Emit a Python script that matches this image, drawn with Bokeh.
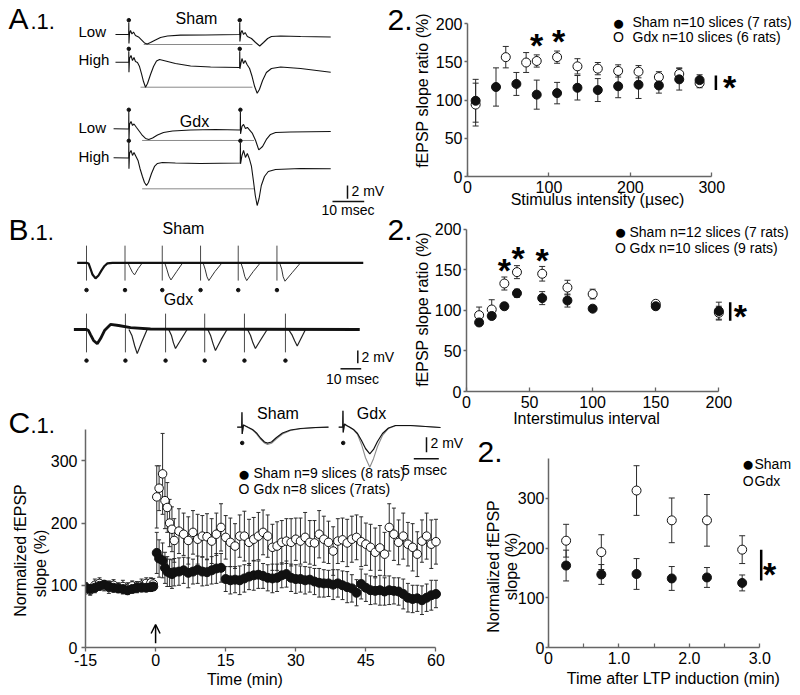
import math
from bokeh.plotting import figure
from bokeh.models import (Range1d, FixedTicker, Label, Whisker, TeeHead,
                          ColumnDataSource, Arrow, OpenHead)
from bokeh.layouts import row, column
from bokeh.embed import file_html
from bokeh.resources import INLINE

FONT = "Liberation Sans"
INK = "#111111"
AXC = "#666666"
ERR = "#2b2b2b"

# ============================ DATA ============================
# ---- A.1 example traces (ms from 1st stimulus, mV from baseline) ----
a1_sham_low_t = [-4.2, -0.25, -0.03, 0.0, 0.05, 0.22, 0.54, 1.0, 1.48, 2.1, 3.06, 4.0, 4.95, 5.8, 6.85,
                 8.4, 10.0, 12.2, 16.3, 24.2, 34.8, 34.97, 35.0, 35.05, 35.4, 35.7, 36.2, 36.7, 37.4,
                 38.7, 40.0, 41.3, 42.5, 43.8, 45.0, 47.9, 54.2, 63.7]
a1_sham_low_v = [0, 0, 0, 1.8, -1.35, 0.15, 0.6, 0.07, 0.37, -0.15, -0.37, -0.82, -1.27, -1.42, -1.2,
                 -0.82, -0.45, -0.22, -0.1, -0.07, 0, 0, 1.8, -1.05, 0.3, 0.6, 0, 0.3, -0.3,
                 -0.6, -1.2, -1.72, -1.2, -0.6, -0.3, -0.22, -0.3, -0.37]
a1_sham_high_t = [-4.2, -0.25, -0.03, 0.0, 0.05, 0.22, 0.7, 1.17, 1.64, 2.1, 2.74, 3.38, 4.0, 4.64, 5.27,
                  5.9, 6.85, 7.8, 8.74, 9.7, 11.6, 14.7, 19.5, 25.8, 34.8, 34.97, 35.0, 35.05, 35.4,
                  35.7, 36.2, 36.7, 37.3, 38.1, 38.9, 39.7, 40.5, 41.2, 42.2, 43.4, 45.0, 47.9, 54.2, 63.7]
a1_sham_high_v = [0, 0, 0, 1.65, -1.5, 0.55, 1.0, 0.25, 0.7, 0.1, -0.05, -0.65, -1.7, -2.9, -3.75,
                  -3.2, -1.85, -0.65, 0.18, 0.4, 0.18, -0.2, -0.57, -0.72, -0.8, -0.8, 1.65, -1.0, -0.05,
                  0.55, -0.2, 0.25, -0.35, -0.95, -2.15, -3.65, -4.65, -4.1, -2.75, -1.55, -0.95, -0.72, -0.95, -1.5]
a1_gdx_low_t = [-4.8, -0.25, -0.03, 0.0, 0.05, 0.22, 0.7, 1.17, 1.64, 2.43, 3.38, 4.3, 5.27, 6.3, 7.5,
                9.05, 10.95, 13.8, 19.5, 27.3, 35.0, 35.17, 35.2, 35.25, 35.7, 36.2, 36.8, 37.4, 38.2,
                39.0, 40.0, 41.0, 42.2, 43.4, 44.7, 46.3, 51.0, 63.7]
a1_gdx_low_v = [0, -0.03, -0.03, 2.5, -1.75, 0.65, 1.1, 0.5, 0.72, 0.2, -0.4, -1.0, -1.45, -1.6, -1.38,
                -0.93, -0.55, -0.33, -0.18, -0.1, -0.18, -0.18, 2.5, -0.75, 0.35, 0.65, 0.05, 0.2, -0.25,
                -0.7, -1.75, -3.15, -2.65, -1.6, -0.85, -0.55, -0.48, -0.4]
a1_gdx_high_t = [-4.8, -0.25, -0.03, 0.0, 0.05, 0.22, 0.7, 1.17, 1.64, 2.27, 2.9, 3.53, 4.3, 4.95, 5.58,
                 6.2, 7.16, 8.1, 9.05, 10.6, 14.7, 22.6, 35.0, 35.17, 35.2, 35.25, 35.7, 36.2, 36.8,
                 37.4, 38.0, 38.7, 39.3, 39.9, 40.5, 41.1, 41.8, 42.8, 44.0, 46.3, 54.2, 63.7]
a1_gdx_high_v = [0, -0.03, -0.03, 2.2, -1.65, 0.65, 1.1, 0.35, 0.8, 0.2, -0.4, -1.6, -2.8, -3.7, -4.15,
                 -3.7, -2.35, -1.3, -0.85, -0.7, -0.78, -0.85, -0.78, -0.78, 2.2, -0.9, 0.35, 1.1, 0.05,
                 0.65, -0.1, -1.3, -3.4, -5.65, -7.15, -6.1, -4.15, -2.8, -2.05, -1.75, -1.6, -1.65]
a1_ref_start = [4.7, 3.7, 4.2, 4.2]
a1_ref_end = [39.0, 39.0, 39.5, 39.5]
a1_ref_level = [-1.5, -3.75, -1.75, -4.65]
a1_stims = [[0, 35.0], [0, 35.0], [0, 35.2], [0, 35.2]]
a1_dot_level = [2.15, 2.0, 2.85, 2.55]

# ---- A.2 ----
a2_sham_x = [10, 35, 60, 85, 110, 135, 160, 185, 210, 235, 260, 285]
a2_sham_y = [99, 117, 121, 107, 109, 116, 113, 118, 120, 119, 127, 126]
a2_sham_err = [28, 25, 15, 19, 14, 16, 15, 15, 18, 10, 14, 7]
a2_gdx_x = [10, 47, 72, 85, 110, 135, 160, 185, 210, 235, 260, 285]
a2_gdx_y = [94, 156, 149, 151, 156, 144, 141, 138, 137, 130, 134, 122]
a2_gdx_err = [28, 14, 13, 8, 8, 10, 8, 8, 8, 7, 8, 6]
a2_star_x = [85, 112]
a2_star_y = [181, 186]
a2_sig = (305, 113, 132)
a2_sig_star = (322, 125)
a2_xticks = [0, 100, 200, 300]
a2_yticks = [0, 50, 100, 150, 200]

# ---- B.1 example traces ----
b1_sham_main_t = [-4.5, 0.0, 1.0, 1.9, 2.9, 4.35, 5.8, 7.25, 8.7, 10.1, 12.6, 133.7]
b1_sham_main_v = [0, 0, -0.1, -0.9, -1.85, -2.45, -2.0, -1.2, -0.5, -0.1, 0, 0]
b1_sham_stims = [0, 18.6, 36.6, 55.1, 73.3, 92.0]
b1_sham_resp_t = [[20.0, 21.0, 22.2, 23.2, 25.0, 27.0], [37.8, 38.8, 39.8, 40.8, 43.5, 46.5],
                  [56.3, 57.3, 58.2, 59.1, 62.0, 65.5], [74.6, 75.6, 76.5, 77.4, 80.5, 84.0],
                  [93.3, 94.3, 95.0, 95.9, 99.5, 103.4]]
b1_sham_resp_v = [[0, -0.7, -1.5, -1.9, -0.9, 0], [0, -1.0, -2.1, -2.7, -1.4, 0],
                  [0, -1.0, -2.2, -2.8, -1.4, 0], [0, -1.0, -2.2, -2.8, -1.4, 0],
                  [0, -1.0, -2.2, -2.9, -1.5, 0]]
b1_gdx_main_t = [-6.1, 0.0, 0.97, 1.93, 3.4, 5.2, 6.8, 8.7, 11.6, 15.5, 21.3, 30.9, 132.0]
b1_gdx_main_v = [0, 0, -0.16, -0.79, -1.73, -2.25, -1.42, -0.16, 0.79, 0.63, 0.31, 0.08, 0]
b1_gdx_stims = [0, 18.8, 38.2, 57.1, 76.3, 96.1]
b1_gdx_resp_t = [[20.5, 22.0, 23.3, 24.5, 26.8, 29.3], [39.7, 41.0, 42.0, 43.0, 45.8, 48.6],
                 [58.6, 60.0, 61.2, 62.3, 65.0, 67.9], [77.8, 79.2, 80.4, 81.6, 84.4, 87.3],
                 [97.6, 99.2, 100.6, 101.8, 103.8, 105.8]]
b1_gdx_resp_v = [[0, -1.0, -2.6, -3.8, -1.9, 0], [0, -0.9, -2.1, -3.0, -1.5, 0],
                 [0, -1.0, -2.3, -3.3, -1.6, 0], [0, -0.9, -2.1, -3.0, -1.5, 0],
                 [0, -0.8, -1.8, -2.6, -1.3, 0]]
b1_sham_art = (2.7, -2.8)
b1_gdx_art = (2.5, -3.6)
b1_sham_dot = -4.3
b1_gdx_dot = -4.9

# ---- B.2 ----
b2_x = [10, 20, 30, 40, 60, 80, 100, 150, 200]
b2_sham_y = [85, 93, 105, 121, 115, 112, 102, 105, 99]
b2_sham_err = [3, 3, 4, 5, 8, 8, 3, 4, 11]
b2_gdx_y = [94, 101, 133, 147, 145, 128, 120, 108, 97]
b2_gdx_err = [10, 12, 8, 8, 9, 9, 6, 4, 8]
b2_star_x = [30, 41, 60]
b2_star_y = [158, 172, 170]
b2_sig = (209, 87, 110)
b2_sig_star = (217, 101)
b2_xticks = [0, 50, 100, 150, 200]
b2_yticks = [0, 50, 100, 150, 200]

# ---- C.1 time course (min, % of baseline) ----
c1_t_base = [-15, -14, -13, -12, -11, -10, -9, -8, -7, -6, -5, -4, -3, -2, -1, -0.5]
c1_t_early = [0.25, 0.75, 1.5, 2, 2.5, 3, 3.5, 4]
c1_t_late = [5, 6, 7, 8, 9, 10, 11, 12,
             13, 14, 15, 16, 17, 18, 19, 20,
             21, 22, 23, 24, 25, 26, 27, 28,
             29, 30, 31, 32, 33, 34, 35, 36,
             37, 38, 39, 40, 41, 42, 43, 44,
             45, 46, 47, 48, 49, 50, 51, 52,
             53, 54, 55, 56, 57, 58, 59, 60]
c1_sham_base = [97, 94, 96, 99, 101, 98, 96, 95, 94, 92, 94, 96, 97, 96, 97, 98]
c1_sham_early = [152, 143, 140, 128, 122, 120, 118, 121]
c1_sham_late = [122, 124, 120, 122, 125, 122, 121, 124,
                127, 128, 110, 108, 109, 108, 111, 114,
                116, 117, 115, 112, 111, 112, 116, 118,
                112, 110, 110, 108, 109, 106, 104, 103,
                103, 101, 103, 100, 97, 95, 88, 102,
                96, 92, 91, 92, 90, 92, 91, 90,
                86, 80, 78, 79, 76, 80, 84, 86]
c1_sham_err_base = [7, 6, 8, 7, 6, 8, 7, 6, 8, 7, 6, 7, 8, 6, 7, 6]
c1_sham_err_early = [33, 30, 28, 25, 24, 22, 23, 22]
c1_sham_err_late = [22, 21, 24, 20, 22, 23, 21, 22,
                    24, 23, 20, 22, 21, 23, 22, 21,
                    24, 22, 20, 21, 23, 22, 20, 21,
                    22, 23, 21, 22, 20, 21, 23, 22,
                    21, 24, 22, 23, 25, 22, 21, 24,
                    22, 23, 21, 24, 22, 23, 21, 22,
                    24, 23, 22, 21, 23, 22, 24, 22]
c1_gdx_base = [95, 92, 100, 103, 99, 97, 100, 96, 98, 95, 99, 97, 100, 103, 104, 102]
c1_gdx_early = [242, 256, 279, 236, 225, 200, 190, 172]
c1_gdx_late = [187, 182, 172, 185, 174, 179, 178, 171,
               182, 193, 177, 169, 163, 179, 179, 169,
               174, 179, 185, 179, 161, 163, 169, 171,
               169, 174, 171, 177, 169, 168, 182, 174,
               169, 155, 171, 173, 168, 174, 177, 170,
               166, 161, 153, 160, 150, 193, 182, 169,
               179, 166, 161, 150, 171, 179, 166, 170]
c1_gdx_err_base = [9, 8, 10, 9, 8, 10, 9, 8, 10, 9, 8, 9, 10, 9, 8, 9]
c1_gdx_err_early = [50, 36, 65, 45, 40, 38, 36, 35]
c1_gdx_err_late = [36, 34, 38, 35, 40, 33, 37, 36,
                   34, 38, 35, 39, 36, 34, 40, 37,
                   35, 38, 36, 34, 37, 39, 35, 36,
                   38, 34, 37, 40, 35, 36, 38, 37,
                   34, 39, 36, 35, 38, 37, 36, 40,
                   34, 37, 39, 36, 35, 38, 42, 36,
                   37, 35, 38, 36, 34, 37, 39, 36]
c1_xticks = [-15, 0, 15, 30, 45, 60]
c1_yticks = [0, 100, 200, 300]
ltp_time = 0

# ---- C.1 inset traces (ms, mV): black = before, grey = after LTP ----
c1_ins_sham_t = [-1.0, -0.1, -0.05, 0.0, 0.26, 0.66, 1.26, 2.06, 2.86, 3.66, 4.46, 5.06, 5.86, 6.86,
                 8.06, 9.66, 11.66, 14.66, 17.26]
c1_ins_sham_pre = [0, 0, 2.0, -0.9, 0.3, 0.16, -0.04, -0.3, -0.77, -1.44, -1.97, -2.13, -1.97, -1.37,
                   -0.77, -0.37, -0.17, -0.04, 0]
c1_ins_sham_post = [0, 0, 2.0, -0.9, 0.3, 0.16, -0.06, -0.36, -0.88, -1.6, -2.12, -2.3, -2.15, -1.55,
                    -0.9, -0.45, -0.2, -0.06, 0]
c1_ins_gdx_t = [-0.9, -0.1, -0.05, 0.0, 0.26, 0.66, 1.26, 2.06, 2.86, 3.66, 4.46, 5.32, 6.06, 6.86,
                7.86, 9.06, 10.46, 13.46, 19.46]
c1_ins_gdx_pre = [0, 0, 2.2, -0.7, 0.43, 0.23, 0.03, -0.3, -0.84, -1.77, -2.84, -3.55, -2.97, -1.9,
                  -0.84, -0.1, 0.23, 0.23, -0.04]
c1_ins_gdx_post = [0, 0, 2.2, -0.7, 0.43, 0.23, 0.0, -0.35, -0.97, -2.3, -4.07, -5.33, -4.2, -2.57,
                   -1.1, -0.17, 0.2, 0.23, -0.04]

# ---- C.2 ----
c2_x = [0.25, 0.75, 1.25, 1.75, 2.25, 2.75]
c2_sham_y = [165, 147, 148, 139, 141, 130]
c2_sham_err = [31, 20, 31, 24, 20, 16]
c2_gdx_y = [215, 192, 316, 256, 256, 197]
c2_gdx_err = [33, 35, 50, 45, 52, 28]
c2_sig = (3.02, 135, 197)
c2_sig_star = (3.14, 162)
c2_xticks = [0, 1, 2, 3]
c2_xminor = [0.5, 1.5, 2.5]
c2_yticks = [0, 100, 200, 300]


# ============================ HELPERS ============================
class Geo:
    """page placement of a figure and of its frame (screen px), with its data ranges"""
    def __init__(self, x0, y0, w, h, fl, ft, fw, fh, xr, yr):
        self.x0, self.y0, self.w, self.h = x0, y0, w, h
        self.fl, self.ft, self.fw, self.fh = fl, ft, fw, fh
        self.xr, self.yr = xr, yr

    def d(self, px, py):
        x = self.xr[0] + (px - self.x0 - self.fl) * (self.xr[1] - self.xr[0]) / self.fw
        y = self.yr[0] + (self.y0 + self.ft + self.fh - py) * (self.yr[1] - self.yr[0]) / self.fh
        return x, y

    def pg(self, x, y):
        px = self.x0 + self.fl + (x - self.xr[0]) * self.fw / (self.xr[1] - self.xr[0])
        py = self.y0 + self.ft + self.fh - (y - self.yr[0]) * self.fh / (self.yr[1] - self.yr[0])
        return px, py


def make_fig(g, axes=True):
    p = figure(width=g.w, height=g.h,
               x_range=Range1d(g.xr[0], g.xr[1]), y_range=Range1d(g.yr[0], g.yr[1]),
               output_backend="svg", toolbar_location=None,
               x_axis_location=("below" if axes else None),
               y_axis_location=("left" if axes else None),
               min_border_left=g.fl, min_border_top=g.ft,
               min_border_right=g.w - g.fl - g.fw,
               min_border_bottom=g.h - g.ft - g.fh)
    p.frame_align = False
    p.outline_line_color = None
    p.background_fill_color = None
    p.border_fill_color = None
    p.grid.visible = False
    return p


def style_axes(p, xt, yt, xb, yb, xminor=(), xover=None, xin=4, xout=0, yout=3, xstand=4, ystand=2):
    xa, ya = p.xaxis[0], p.yaxis[0]
    xa.ticker = FixedTicker(ticks=list(xt), minor_ticks=list(xminor))
    ya.ticker = FixedTicker(ticks=list(yt))
    xa.bounds = xb
    ya.bounds = yb
    if xover:
        xa.major_label_overrides = xover
    for ax in (xa, ya):
        ax.axis_line_color = AXC
        ax.axis_line_width = 1.5
        ax.major_tick_line_color = AXC
        ax.major_tick_line_width = 1.3
        ax.minor_tick_line_color = None
        ax.major_label_text_font = FONT
        ax.major_label_text_font_size = "16px"
        ax.major_label_text_color = "#000000"
    if xminor:
        xa.minor_tick_line_color = AXC
        xa.minor_tick_line_width = 1.2
    xa.major_tick_in, xa.major_tick_out = xin, xout
    xa.minor_tick_in, xa.minor_tick_out = xin, xout
    ya.major_tick_in, ya.major_tick_out = 0, yout
    xa.major_label_standoff = xstand
    ya.major_label_standoff = ystand


def add_errors(p, xs, ys, errs, head=6):
    src = ColumnDataSource(dict(x=list(xs), y=list(ys),
                                lo=[a - e for a, e in zip(ys, errs)],
                                hi=[a + e for a, e in zip(ys, errs)]))
    p.add_layout(Whisker(source=src, base="x", lower="lo", upper="hi",
                         line_color=ERR, line_width=1,
                         upper_head=TeeHead(size=head, line_color=ERR, line_width=1),
                         lower_head=TeeHead(size=head, line_color=ERR, line_width=1)))
    return src


def add_points(p, src, filled, size):
    p.scatter("x", "y", source=src, size=size, marker="circle",
              fill_color=(INK if filled else "white"), line_color=INK, line_width=1)


# all free texts go on a transparent page-sized overlay, in screen pixel coordinates
TEXTS = []
MID_FIX = -1.0


def put(px, py, s, size=16, align="left", angle=0.0, bold=False):
    if angle:
        px += MID_FIX
    else:
        py += MID_FIX
    TEXTS.append(dict(x=px, y=py, text=s, size=size, align=align, angle=angle, bold=bold))


def star(g, x, y, size=34):
    px, py = g.pg(x, y)
    put(px, py + 0.22 * size, "*", size, align="center", bold=True)


def sig_bar(p, g, sig, sig_star):
    x, y0, y1 = sig
    p.segment(x0=[x], y0=[y0], x1=[x], y1=[y1], line_color="#000000", line_width=2.5)
    star(g, sig_star[0], sig_star[1])


def panel_label(px, pybase, main, sub, sub_dx):
    put(px, pybase - 0.358 * 30, main, 30)
    if sub:
        put(px + sub_dx, pybase - 0.358 * 22, sub, 22)


def legend_text(mx, tx, rows, texts):
    put(mx, rows[0], "\u25cf", 21, align="center")
    put(tx, rows[0], texts[0], 14)
    put(mx, rows[1], "O", 14, align="center")
    put(tx, rows[1], texts[1], 14)


# ============================ A.1 ============================
A1_MS, A1_MV = 3.17, 6.67
GA1 = Geo(0, 0, 385, 220, 0, 0, 385, 220,
          ((0 - 128.3) / A1_MS, (385 - 128.3) / A1_MS), (0, 220 / A1_MV))
a1 = make_fig(GA1, axes=False)
a1_traces = [(a1_sham_low_t, a1_sham_low_v), (a1_sham_high_t, a1_sham_high_v),
             (a1_gdx_low_t, a1_gdx_low_v), (a1_gdx_high_t, a1_gdx_high_v)]
a1_base_py = [34, 61.7, 128.3, 157.3]
for i, (t, v) in enumerate(a1_traces):
    off = GA1.d(0, a1_base_py[i])[1]
    a1.segment(x0=[a1_ref_start[i]], y0=[off + a1_ref_level[i]], x1=[a1_ref_end[i]],
               y1=[off + a1_ref_level[i]], line_color="#8a8a8a", line_width=1)
    a1.line(t, [off + q for q in v], line_color=INK, line_width=1.1)
    a1.scatter(a1_stims[i], [off + a1_dot_level[i]] * len(a1_stims[i]), size=3.5, color=INK)
vx, vy = GA1.d(347, 198.3)
a1.segment(x0=[vx], y0=[vy], x1=[vx], y1=[vy + 2], line_color=INK, line_width=1.5)
hx, hy = GA1.d(332, 201)
a1.segment(x0=[hx], y0=[hy], x1=[hx + 10], y1=[hy], line_color=INK, line_width=1.5)
panel_label(8, 30, "A", ".1.", 22)
put(78, 32, "Low", 15)
put(78, 60, "High", 15)
put(78, 128, "Low", 15)
put(78, 157, "High", 15)
put(196, 18.5, "Sham", 16, align="center")
put(194, 122, "Gdx", 16, align="center")
put(351, 191.5, "2 mV", 14)
put(347.5, 210.5, "10 msec", 14, align="center")

# ============================ A.2 ============================
GA2 = Geo(385, 0, 413, 220, 82, 10, 329, 166, (0, 329 / 0.8144), (0, 166 / 0.765))
a2 = make_fig(GA2)
style_axes(a2, a2_xticks, a2_yticks, (0, 300), (0, 200))
sg = add_errors(a2, a2_gdx_x, a2_gdx_y, a2_gdx_err)
ss = add_errors(a2, a2_sham_x, a2_sham_y, a2_sham_err)
add_points(a2, sg, False, 9)
add_points(a2, ss, True, 9)
for x, y in zip(a2_star_x, a2_star_y):
    star(GA2, x, y)
sig_bar(a2, GA2, a2_sig, a2_sig_star)
put(387, 31 - 0.358 * 30, "2.", 30)
put(423, 90, "fEPSP slope ratio (%)", 16, align="center", angle=math.pi / 2)
put(597, 200, "Stimulus intensity (\u00b5sec)", 16, align="center")
legend_text(618, 632, (22.5, 37), ("Sham n=10 slices (7 rats)", "Gdx n=10 slices (6 rats)"))

# ============================ B.1 ============================
B1_MS, B1_MV = 2.07, 6.35
GB1 = Geo(0, 220, 385, 212, 0, 0, 385, 212,
          ((0 - 86) / B1_MS, (385 - 86) / B1_MS), (0, 212 / B1_MV))
b1 = make_fig(GB1, axes=False)
sham_off = GB1.d(0, 262.3)[1]
gdx_off = GB1.d(0, 329)[1]
for stims, art, off in ((b1_sham_stims, b1_sham_art, sham_off), (b1_gdx_stims, b1_gdx_art, gdx_off)):
    b1.segment(x0=stims, y0=[off + art[1]] * len(stims), x1=stims, y1=[off + art[0]] * len(stims),
               line_color="#4a4a4a", line_width=1)
b1.multi_line([t for t in b1_sham_resp_t], [[sham_off + q for q in v] for v in b1_sham_resp_v],
              line_color="#333333", line_width=1)
b1.multi_line([t for t in b1_gdx_resp_t], [[gdx_off + q for q in v] for v in b1_gdx_resp_v],
              line_color="#222222", line_width=1.2)
b1.line(b1_sham_main_t, [sham_off + q for q in b1_sham_main_v], line_color=INK, line_width=2.2)
b1.line(b1_gdx_main_t, [gdx_off + q for q in b1_gdx_main_v], line_color=INK, line_width=2.8)
b1.scatter(b1_sham_stims, [sham_off + b1_sham_dot] * len(b1_sham_stims), size=3.5, color=INK)
b1.scatter(b1_gdx_stims, [gdx_off + b1_gdx_dot] * len(b1_gdx_stims), size=3.5, color=INK)
vx, vy = GB1.d(357.3, 362.7)
b1.segment(x0=[vx], y0=[vy], x1=[vx], y1=[vy + 2], line_color=INK, line_width=1.5)
hx, hy = GB1.d(340, 368.3)
b1.segment(x0=[hx], y0=[hy], x1=[hx + 10], y1=[hy], line_color=INK, line_width=1.5)
panel_label(8, 241, "B", ".1.", 21)
put(183, 229, "Sham", 16, align="center")
put(178, 300, "Gdx", 16, align="center")
put(361, 357, "2 mV", 14)
put(352, 379, "10 msec", 14, align="center")

# ============================ B.2 ============================
GB2 = Geo(385, 220, 413, 212, 81, 2, 330, 169, (0, 330 / 1.2617), (0, 169 / 0.812))
b2 = make_fig(GB2)
style_axes(b2, b2_xticks, b2_yticks, (0, 200), (0, 200))
sg = add_errors(b2, b2_x, b2_gdx_y, b2_gdx_err)
ss = add_errors(b2, b2_x, b2_sham_y, b2_sham_err)
add_points(b2, sg, False, 9)
add_points(b2, ss, True, 9)
for x, y in zip(b2_star_x, b2_star_y):
    star(GB2, x, y)
sig_bar(b2, GB2, b2_sig, b2_sig_star)
put(387, 241 - 0.358 * 30, "2.", 30)
put(423, 309, "fEPSP slope ratio (%)", 16, align="center", angle=math.pi / 2)
put(586, 419, "Interstimulus interval", 16, align="center")
legend_text(620, 629, (232, 248), ("Sham n=12 slices (7 rats)", "Gdx n=10 slices (9 rats)"))

# ============================ C.1 ============================
GC1 = Geo(0, 400, 455, 293, 85, 0, 364, 247, (-15, -15 + 364 / 4.673), (0, 247 / 0.6223))
c1 = make_fig(GC1)
style_axes(c1, c1_xticks, c1_yticks, (-15, 60), (0, 350), xover={-15: "-15"},
           xin=0, xout=4, yout=4, xstand=2, ystand=4)
c1_t = c1_t_base + c1_t_early + c1_t_late
sg = add_errors(c1, c1_t, c1_gdx_base + c1_gdx_early + c1_gdx_late,
                c1_gdx_err_base + c1_gdx_err_early + c1_gdx_err_late, head=4)
ss = add_errors(c1, c1_t, c1_sham_base + c1_sham_early + c1_sham_late,
                c1_sham_err_base + c1_sham_err_early + c1_sham_err_late, head=4)
add_points(c1, sg, False, 8.5)
add_points(c1, ss, True, 9)
c1.add_layout(Arrow(end=OpenHead(size=9, line_width=1.5, line_color="#000000"),
                    x_start=ltp_time, y_start=7, x_end=ltp_time, y_end=37,
                    line_width=1.5, line_color="#000000"))
# inset traces on their own ms / mV scales
INS_MS, INS_MV = 5.0, 7.5
c1.extra_x_ranges = {"ix": Range1d((85 - 241.7) / INS_MS, (449 - 241.7) / INS_MS)}
c1.extra_y_ranges = {"iy": Range1d((426.7 - 647) / INS_MV, (426.7 - 400) / INS_MV)}
gdx_stim_ms = (342.7 - 241.7) / INS_MS
c1.line(c1_ins_sham_t, c1_ins_sham_post, x_range_name="ix", y_range_name="iy",
        line_color="#8c8c8c", line_width=1.1)
c1.line(c1_ins_sham_t, c1_ins_sham_pre, x_range_name="ix", y_range_name="iy",
        line_color=INK, line_width=1.2)
c1.line([t + gdx_stim_ms for t in c1_ins_gdx_t], c1_ins_gdx_post, x_range_name="ix",
        y_range_name="iy", line_color="#8c8c8c", line_width=1.1)
c1.line([t + gdx_stim_ms for t in c1_ins_gdx_t], c1_ins_gdx_pre, x_range_name="ix",
        y_range_name="iy", line_color=INK, line_width=1.2)
c1.scatter([0, gdx_stim_ms], [-2.1, -2.1], x_range_name="ix", y_range_name="iy",
           size=3.5, color=INK)
ivx, ivy = (426 - 241.7) / INS_MS, (426.7 - 451.7) / INS_MV
c1.segment(x0=[ivx], y0=[ivy], x1=[ivx], y1=[ivy + 2], x_range_name="ix", y_range_name="iy",
           line_color=INK, line_width=1.5)
ihx, ihy = (413.3 - 241.7) / INS_MS, (426.7 - 458.3) / INS_MV
c1.segment(x0=[ihx], y0=[ihy], x1=[ihx + 5], y1=[ihy], x_range_name="ix", y_range_name="iy",
           line_color=INK, line_width=1.5)
panel_label(8, 434, "C", ".1.", 22)
put(277.5, 414, "Sham", 16, align="center")
put(371, 414, "Gdx", 16, align="center")
put(430, 443.5, "2 mV", 14)
put(424, 470, "5 msec", 14, align="center")
legend_text(243.5, 253, (473.5, 489), ("Sham  n=9 slices (8 rats)", "Gdx n=8 slices (7rats)"))
put(21, 550, "Normalized fEPSP", 16, align="center", angle=math.pi / 2)
put(41, 563, "slope (%)", 16, align="center", angle=math.pi / 2)
put(244.5, 679.5, "Time (min)", 16, align="center")

# ============================ C.2 ============================
GC2 = Geo(455, 400, 343, 293, 93, 58, 248, 189, (0, 248 / 70.43), (0, 189 / 0.4967))
c2 = make_fig(GC2)
style_axes(c2, c2_xticks, c2_yticks, (0, 3), (0, 380), xminor=c2_xminor,
           xover={0: "0", 1: "1.0", 2: "2.0", 3: "3.0"}, xin=4, xout=0, yout=3, xstand=4, ystand=1)
sg = add_errors(c2, c2_x, c2_gdx_y, c2_gdx_err)
ss = add_errors(c2, c2_x, c2_sham_y, c2_sham_err)
add_points(c2, sg, False, 9)
add_points(c2, ss, True, 9)
sig_bar(c2, GC2, c2_sig, c2_sig_star)
put(477, 463 - 0.358 * 30, "2.", 30)
legend_text(747.7, 754, (464, 481), ("Sham", "Gdx"))
put(494, 566, "Normalized fEPSP", 16, align="center", angle=math.pi / 2)
put(512, 566, "slope (%)", 16, align="center", angle=math.pi / 2)
put(673, 679, "Time after LTP induction (min)", 16, align="center")

# ============================ TEXT OVERLAY ============================
PAGE_W, PAGE_H = 798, 693
ov = figure(width=PAGE_W, height=PAGE_H, x_range=Range1d(0, PAGE_W), y_range=Range1d(PAGE_H, 0),
            output_backend="svg", toolbar_location=None,
            x_axis_location=None, y_axis_location=None, min_border=0)
ov.frame_align = False
ov.outline_line_color = None
ov.background_fill_color = None
ov.border_fill_color = None
ov.grid.visible = False
for t in TEXTS:
    ov.add_layout(Label(x=t["x"], y=t["y"], text=t["text"], text_font=FONT,
                        text_font_size=f"{t['size']}px", text_align=t["align"],
                        text_baseline="middle", angle=t["angle"], text_color="#000000",
                        text_font_style=("bold" if t["bold"] else "normal")))

# ============================ LAYOUT ============================
top = row(column(a1, b1), column(a2, b2))
bottom = row(c1, c2)
bottom.margin = (-32, 0, 0, 0)
charts = column(top, bottom)
ov.margin = (-PAGE_H, 0, 0, 0)
page = column(charts, ov)

open("out.html", "w").write(file_html(page, INLINE, "fEPSP figure"))
